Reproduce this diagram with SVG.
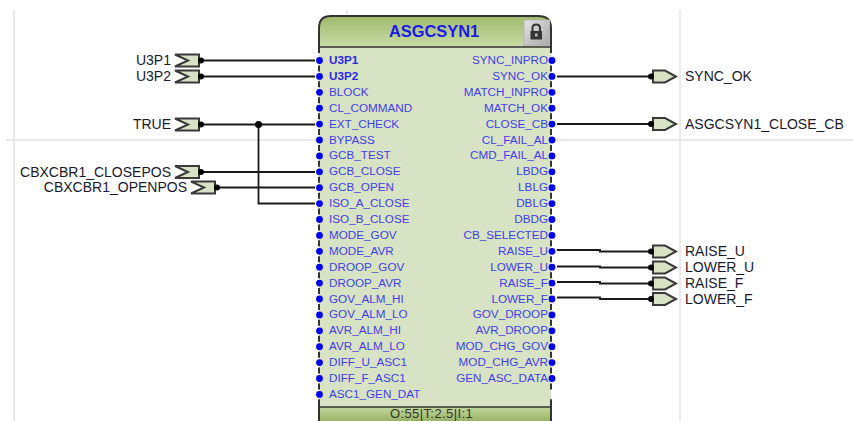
<svg xmlns="http://www.w3.org/2000/svg" width="853" height="421" viewBox="0 0 853 421">
<style>
text{font-family:"Liberation Sans",Arial,sans-serif}
.p{font-size:11.7px;fill:#3f3fe4}
.b{font-weight:bold;fill:#2a2ae0}
.r{text-anchor:end}
.x{font-size:14px;fill:#1a1a2a}
.g{stroke:#e2e2e2;stroke-width:1.5;fill:none}
.w{fill:none;stroke:#1a1a1a;stroke-width:1.800}
.d{fill:#0000f0}
.k{fill:#000}
.t{fill:#d8e2c4;stroke:#3a3a3a;stroke-width:2}
</style>
<defs>
<linearGradient id="hd" x1="0" y1="0" x2="0" y2="1"><stop offset="0" stop-color="#9fba6c"/><stop offset="1" stop-color="#c9dba6"/></linearGradient>
<linearGradient id="ft" x1="0" y1="0" x2="0" y2="1"><stop offset="0" stop-color="#c3d69d"/><stop offset="1" stop-color="#98b464"/></linearGradient>
<linearGradient id="btn" x1="0" y1="0" x2="1" y2="1"><stop offset="0" stop-color="#e4e4e4"/><stop offset="1" stop-color="#a8a8a8"/></linearGradient>
<g id="inp"><path class="t" d="M-26-6H-2V6H-26L-13 0Z"/><circle class="k" cx="0" cy="0" r="3"/></g>
<g id="out"><path class="t" d="M2-6H14L25 0L14 6H2Z"/><circle class="k" cx="0" cy="0" r="3"/></g>
</defs>
<rect width="853" height="421" fill="#fff"/>
<g id="grid">
<path class="g" d="M6 140H853M14 10V421M680 10V421M347 10V15"/>
</g>
<g id="block">
<path d="M319 421V28Q319 16 331 16H538Q551 16 551 28V421Z" fill="#d8e2c4"/>
<path d="M319 47V28Q319 16 331 16H538Q551 16 551 28V47Z" fill="url(#hd)"/>
<path d="M319 407H551V421H319Z" fill="url(#ft)"/>
<path d="M319 47H551M319 407H551" stroke="#333" stroke-width="1.5" fill="none"/>
<path d="M319 47V28Q319 16 331 16H538Q551 16 551 28V47M319 400V421M551 400V421" stroke="#333" stroke-width="2" fill="none"/>
<path d="M319 47V57M319 65.450V400M551 47V57M551 65.450V400" stroke="#333" stroke-width="2" fill="none" stroke-dasharray="6 9.900"/>
<rect x="524" y="20" width="25.500" height="25.500" fill="url(#btn)" stroke="#b5b5b5"/>
<path d="M532.500 31V28Q532.500 24.500 536.200 24.500Q540 24.500 540 28V31" fill="none" stroke="#333" stroke-width="2"/>
<rect x="530.500" y="31" width="11.500" height="8.500" fill="#333"/>
<rect x="535" y="33.500" width="2.500" height="3" fill="#bbb"/>
<text x="434" y="37" font-size="16.400" font-weight="bold" fill="#1a1ae8" text-anchor="middle">ASGCSYN1</text>
<text x="431.500" y="418" font-size="13" letter-spacing="0.400" fill="#333" text-anchor="middle">O:55|T:2.5|I:1</text>
</g>
<g id="ports-left">
<g class="d"><circle cx="319.500" cy="60.500" r="3.400"/><circle cx="319.500" cy="76.400" r="3.400"/><circle cx="319.500" cy="92.300" r="3.400"/><circle cx="319.500" cy="108.200" r="3.400"/><circle cx="319.500" cy="124.100" r="3.400"/><circle cx="319.500" cy="140" r="3.400"/><circle cx="319.500" cy="155.900" r="3.400"/><circle cx="319.500" cy="171.800" r="3.400"/><circle cx="319.500" cy="187.700" r="3.400"/><circle cx="319.500" cy="203.600" r="3.400"/><circle cx="319.500" cy="219.500" r="3.400"/><circle cx="319.500" cy="235.400" r="3.400"/><circle cx="319.500" cy="251.300" r="3.400"/><circle cx="319.500" cy="267.200" r="3.400"/><circle cx="319.500" cy="283.100" r="3.400"/><circle cx="319.500" cy="299" r="3.400"/><circle cx="319.500" cy="314.900" r="3.400"/><circle cx="319.500" cy="330.800" r="3.400"/><circle cx="319.500" cy="346.700" r="3.400"/><circle cx="319.500" cy="362.600" r="3.400"/><circle cx="319.500" cy="378.500" r="3.400"/><circle cx="319.500" cy="394.400" r="3.400"/></g>
<g class="p">
<text class="b" x="329" y="64">U3P1</text><text class="b" x="329" y="79.900">U3P2</text><text x="329" y="95.800">BLOCK</text><text x="329" y="111.700">CL_COMMAND</text><text x="329" y="127.600">EXT_CHECK</text><text x="329" y="143.500">BYPASS</text><text x="329" y="159.400">GCB_TEST</text><text x="329" y="175.300">GCB_CLOSE</text><text x="329" y="191.200">GCB_OPEN</text><text x="329" y="207.100">ISO_A_CLOSE</text><text x="329" y="223">ISO_B_CLOSE</text><text x="329" y="238.900">MODE_GOV</text><text x="329" y="254.800">MODE_AVR</text><text x="329" y="270.700">DROOP_GOV</text><text x="329" y="286.600">DROOP_AVR</text><text x="329" y="302.500">GOV_ALM_HI</text><text x="329" y="318.400">GOV_ALM_LO</text><text x="329" y="334.300">AVR_ALM_HI</text><text x="329" y="350.200">AVR_ALM_LO</text><text x="329" y="366.100">DIFF_U_ASC1</text><text x="329" y="382">DIFF_F_ASC1</text><text x="329" y="397.900">ASC1_GEN_DAT</text>
</g>
</g>
<g id="ports-right">
<g class="d"><circle cx="552" cy="60.500" r="3.400"/><circle cx="552" cy="76.400" r="3.400"/><circle cx="552" cy="92.300" r="3.400"/><circle cx="552" cy="108.200" r="3.400"/><circle cx="552" cy="124.100" r="3.400"/><circle cx="552" cy="140" r="3.400"/><circle cx="552" cy="155.900" r="3.400"/><circle cx="552" cy="171.800" r="3.400"/><circle cx="552" cy="187.700" r="3.400"/><circle cx="552" cy="203.600" r="3.400"/><circle cx="552" cy="219.500" r="3.400"/><circle cx="552" cy="235.400" r="3.400"/><circle cx="552" cy="251.300" r="3.400"/><circle cx="552" cy="267.200" r="3.400"/><circle cx="552" cy="283.100" r="3.400"/><circle cx="552" cy="299" r="3.400"/><circle cx="552" cy="314.900" r="3.400"/><circle cx="552" cy="330.800" r="3.400"/><circle cx="552" cy="346.700" r="3.400"/><circle cx="552" cy="362.600" r="3.400"/><circle cx="552" cy="378.500" r="3.400"/></g>
<g class="p r">
<text x="548" y="64">SYNC_INPRO</text><text x="548" y="79.900">SYNC_OK</text><text x="548" y="95.800">MATCH_INPRO</text><text x="548" y="111.700">MATCH_OK</text><text x="548" y="127.600">CLOSE_CB</text><text x="548" y="143.500">CL_FAIL_AL</text><text x="548" y="159.400">CMD_FAIL_AL</text><text x="548" y="175.300">LBDG</text><text x="548" y="191.200">LBLG</text><text x="548" y="207.100">DBLG</text><text x="548" y="223">DBDG</text><text x="548" y="238.900">CB_SELECTED</text><text x="548" y="254.800">RAISE_U</text><text x="548" y="270.700">LOWER_U</text><text x="548" y="286.600">RAISE_F</text><text x="548" y="302.500">LOWER_F</text><text x="548" y="318.400">GOV_DROOP</text><text x="548" y="334.300">AVR_DROOP</text><text x="548" y="350.200">MOD_CHG_GOV</text><text x="548" y="366.100">MOD_CHG_AVR</text><text x="548" y="382">GEN_ASC_DATA</text>
</g>
</g>
<g id="connectors">
<path class="w" d="M201 60.500H315M201 76.500H315M201 124.500H315M201 172H315M217 187.500H315M258.500 124.500V203.500H315"/>
<path class="w" d="M557 76.500H650M557 124H650M557 250H600V251.500H650M557 266.500H600V267.500H650M557 282H600V283.500H650M557 297.500H600V299H650"/>
<circle class="k" cx="258.500" cy="124.500" r="3.500"/>
</g>
<g id="in-U3P1"><use href="#inp" x="201" y="60.500"/><text class="x" x="171" y="65" text-anchor="end">U3P1</text></g>
<g id="in-U3P2"><use href="#inp" x="201" y="76.500"/><text class="x" x="171" y="81" text-anchor="end">U3P2</text></g>
<g id="in-TRUE"><use href="#inp" x="201" y="124.500"/><text class="x" x="171" y="129" text-anchor="end">TRUE</text></g>
<g id="in-CLOSEPOS"><use href="#inp" x="201" y="172"/><text class="x" x="171" y="177" text-anchor="end">CBXCBR1_CLOSEPOS</text></g>
<g id="in-OPENPOS"><use href="#inp" x="217" y="187.500"/><text class="x" x="187" y="192" text-anchor="end">CBXCBR1_OPENPOS</text></g>
<g id="out-SYNC_OK"><use href="#out" x="651" y="76.500"/><text class="x" x="685" y="81">SYNC_OK</text></g>
<g id="out-CLOSE_CB"><use href="#out" x="651" y="124"/><text class="x" x="685" y="129">ASGCSYN1_CLOSE_CB</text></g>
<g id="out-RAISE_U"><use href="#out" x="651" y="251.500"/><text class="x" x="685" y="256">RAISE_U</text></g>
<g id="out-LOWER_U"><use href="#out" x="651" y="267.500"/><text class="x" x="685" y="272">LOWER_U</text></g>
<g id="out-RAISE_F"><use href="#out" x="651" y="283.500"/><text class="x" x="685" y="288">RAISE_F</text></g>
<g id="out-LOWER_F"><use href="#out" x="651" y="299"/><text class="x" x="685" y="304">LOWER_F</text></g>
</svg>
